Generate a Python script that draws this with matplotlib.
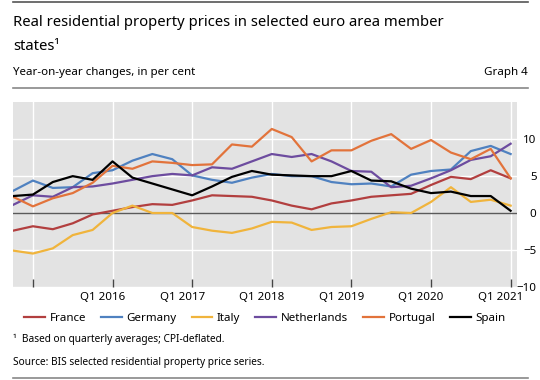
import numpy as np
import pandas as pd
import matplotlib
matplotlib.use("Agg")
import matplotlib.pyplot as plt
from matplotlib.lines import Line2D

plt.rcParams['font.family'] = ['Noto Sans', 'DejaVu Sans']

# quarterly data, Q4 2014 - Q1 2021 (y-o-y changes, %)
quarters = pd.period_range('2014Q4', '2021Q1', freq='Q')
france = [-2.4, -1.8, -2.2, -1.4, -0.2, 0.3, 0.8, 1.2, 1.1, 1.7, 2.4, 2.3, 2.2,
          1.7, 1.0, 0.5, 1.3, 1.7, 2.2, 2.4, 2.6, 3.8, 4.9, 4.6, 5.8, 4.7]
germany = [3.0, 4.4, 3.4, 3.5, 5.4, 5.8, 7.1, 8.0, 7.3, 5.1, 4.5, 4.1, 4.8,
           5.3, 5.0, 5.0, 4.2, 3.9, 4.0, 3.6, 5.2, 5.7, 5.9, 8.4, 9.1, 8.0]
italy = [-5.1, -5.5, -4.8, -3.0, -2.3, 0.0, 1.0, 0.0, 0.0, -1.9, -2.4, -2.7, -2.1,
         -1.2, -1.3, -2.3, -1.9, -1.8, -0.8, 0.1, 0.0, 1.5, 3.5, 1.5, 1.8, 1.0]
netherlands = [1.1, 2.4, 2.2, 3.5, 3.6, 4.0, 4.5, 5.0, 5.3, 5.1, 6.2, 6.0, 7.0,
               8.0, 7.6, 8.0, 7.0, 5.7, 5.6, 3.5, 3.7, 4.7, 5.8, 7.2, 7.7, 9.4]
portugal = [2.2, 0.9, 2.0, 2.7, 4.1, 6.4, 6.0, 7.0, 6.8, 6.5, 6.6, 9.3, 9.0,
            11.4, 10.3, 7.0, 8.5, 8.5, 9.8, 10.7, 8.7, 9.9, 8.2, 7.3, 8.7, 4.7]
spain = [2.3, 2.5, 4.2, 5.0, 4.5, 7.0, 4.8, 4.0, 3.2, 2.4, 3.6, 4.9, 5.7,
         5.2, 5.1, 5.0, 5.0, 5.7, 4.4, 4.3, 3.3, 2.7, 2.9, 2.3, 2.3, 0.3]

names = ['France', 'Germany', 'Italy', 'Netherlands', 'Portugal', 'Spain']
colors = ['#b23f3f', '#4f81c0', '#f0b43c', '#6d4c9f', '#e2733b', '#000000']
years = [2015, 2016, 2017, 2018, 2019, 2020, 2021]
yticks = [-10, -5, 0, 5, 10]

t = np.array([p.year + (p.quarter - 1) / 4 for p in quarters])

W, H = 540, 380
fig = plt.figure(figsize=(W / 100, H / 100), dpi=100)

ax = fig.add_axes([13 / W, 1 - 286.7 / H, (517 - 13) / W, (286.7 - 101.7) / H])
ax.set_facecolor('#e3e3e3')
for s in ax.spines.values():
    s.set_visible(False)

for y in yticks:
    if y == 0:
        ax.axhline(0, color='#5a5a5a', lw=1.0, zorder=1)
    else:
        ax.axhline(y, color='white', lw=1.0, zorder=0.5)
for yr in years:
    ax.axvline(yr, color='white', lw=1.0, zorder=0.5)

series = [france, germany, italy, netherlands, portugal, spain]
for vals, name, c in zip(series, names, colors):
    ax.plot(t, vals, color=c, lw=1.6, label=name, zorder=3)

ax.set_xlim(2014.75, 2021.08)
ax.set_ylim(-10, 15.1)

# bottom ticks at Q1, labels shifted half a quarter left
ax.set_xticks(years)
ax.set_xticklabels([])
ax.tick_params(axis='x', direction='in', length=6, width=1.0, color='#444444')
ax.set_xticks([y - 0.125 for y in years[1:]], minor=True)
ax.set_xticklabels(['Q1 %d' % y for y in years[1:]], minor=True, fontsize=8.3)
ax.tick_params(axis='x', which='minor', length=0, pad=4)

ax.yaxis.tick_right()
ax.set_yticks(yticks)
ax.set_yticklabels([str(v).replace('-', '\u2212') for v in yticks], fontsize=8.3)
ax.tick_params(axis='y', length=0, pad=14)
for lab in ax.get_yticklabels():
    lab.set_horizontalalignment('right')

# header
fig.add_artist(Line2D([13 / W, 528 / W], [1 - 1.5 / H] * 2, color='#555555', lw=1.2))
fig.text(13 / W, 1 - 22 / H, 'Real residential property prices in selected euro area member',
         fontsize=10.7, va='center', ha='left')
fig.text(13 / W, 1 - 47 / H, 'states\u00b9', fontsize=10.7, va='center', ha='left')
fig.text(13 / W, 1 - 72 / H, 'Year-on-year changes, in per cent', fontsize=8.3,
         va='center', ha='left')
fig.text(528 / W, 1 - 72 / H, 'Graph 4', fontsize=8.3, va='center', ha='right')
fig.add_artist(Line2D([13 / W, 528 / W], [1 - 88 / H] * 2, color='#888888', lw=1.2))

# legend
handles = [Line2D([], [], color=c, lw=1.6) for c in colors]
fig.legend(handles, names, loc='center', bbox_to_anchor=(265 / W, 1 - 318 / H),
           ncol=6, frameon=False, fontsize=8.3, handlelength=1.8,
           handletextpad=0.4, columnspacing=1.3)

# footer
fig.text(13 / W, 1 - 339 / H, '\u00b9  Based on quarterly averages; CPI-deflated.',
         fontsize=7.3, va='center', ha='left')
fig.text(13 / W, 1 - 362 / H, 'Source: BIS selected residential property price series.',
         fontsize=7.3, va='center', ha='left')
fig.add_artist(Line2D([13 / W, 528 / W], [1 - 378 / H] * 2, color='#888888', lw=1.2))

fig.savefig('out.png', dpi=100)
